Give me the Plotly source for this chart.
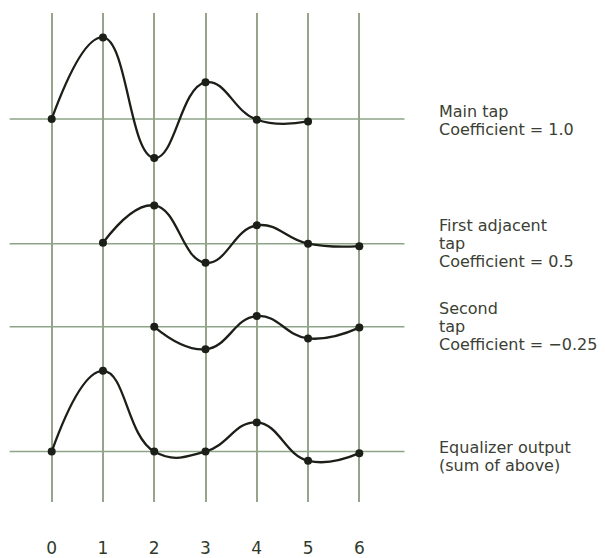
import plotly.graph_objects as go

# ---- data -------------------------------------------------------------
sample_ticks = [0, 1, 2, 3, 4, 5, 6]
tick_labels = ["0", "1", "2", "3", "4", "5", "6"]

main_x = [0, 1, 2, 3, 4, 5]
main_y = [0.0, 0.98, -0.47, 0.44, -0.01, -0.03]

first_x = [1, 2, 3, 4, 5, 6]
first_y = [0.01, 0.46, -0.23, 0.22, 0.0, -0.03]

second_x = [2, 3, 4, 5, 6]
second_y = [0.0, -0.27, 0.13, -0.14, -0.01]

output_x = [0, 1, 2, 3, 4, 5, 6]
output_y = [0.0, 0.97, 0.0, 0.0, 0.35, -0.11, -0.02]

main_label = ["Main tap", "Coefficient = 1.0"]
first_label = ["First adjacent", "tap", "Coefficient = 0.5"]
second_label = ["Second", "tap", "Coefficient = \u22120.25"]
output_label = ["Equalizer output", "(sum of above)"]

# ---- layout helpers ---------------------------------------------------
W, H = 605, 558
PX_PER_X = 51.27
PX_PER_Y = 84.0
X0_PX = 51.7
TOP, BOTTOM = 13, 51

x_lo = -X0_PX / PX_PER_X
x_hi = x_lo + W / PX_PER_X
plot_h = H - TOP - BOTTOM
y_lo = -(H - BOTTOM - 456) / PX_PER_Y
y_hi = y_lo + plot_h / PX_PER_Y

groups = [
    (main_x, main_y, 4.0, main_label, -7),
    (first_x, first_y, 2.5, first_label, -18),
    (second_x, second_y, 1.5, second_label, -18),
    (output_x, output_y, 0.0, output_label, -4),
]

GRID = "#98a38c"
BASE = "#8ea487"
INK = "#1c1f18"
TEXT = "#3b4034"
FONT = "DejaVu Sans, sans-serif"

fig = go.Figure()
annotations = []
for xs, ys, off, label, first_shift in groups:
    fig.add_trace(go.Scatter(
        x=[-0.82, 6.88], y=[off, off], mode="lines",
        line=dict(color=BASE, width=1.5), hoverinfo="skip", showlegend=False))
for xs, ys, off, label, first_shift in groups:
    fig.add_trace(go.Scatter(
        x=xs, y=[off + v for v in ys], mode="lines+markers",
        line=dict(color=INK, width=2.3, shape="spline", smoothing=1.3),
        marker=dict(color=INK, size=8),
        showlegend=False))
    for i, t in enumerate(label):
        dy_px = first_shift + 18 * i
        annotations.append(dict(
            x=439 / W, xref="paper", y=off - dy_px / PX_PER_Y, yref="y",
            text=t, showarrow=False, xanchor="left", yanchor="middle",
            xshift=-2,
            font=dict(family=FONT, size=16, color=TEXT)))

fig.update_layout(
    width=W, height=H,
    margin=dict(l=0, r=0, t=TOP, b=BOTTOM),
    paper_bgcolor="white", plot_bgcolor="white",
    annotations=annotations,
    xaxis=dict(range=[x_lo, x_hi], tickvals=sample_ticks, ticktext=tick_labels,
               showgrid=True, gridcolor=GRID, gridwidth=1.5, zeroline=False,
               showline=False, ticks="", ticklabelstandoff=34,
               tickfont=dict(family=FONT, size=17, color="#2f3a2c")),
    yaxis=dict(range=[y_lo, y_hi], showgrid=False, zeroline=False,
               showticklabels=False, showline=False),
)

fig.write_html("out.html")
